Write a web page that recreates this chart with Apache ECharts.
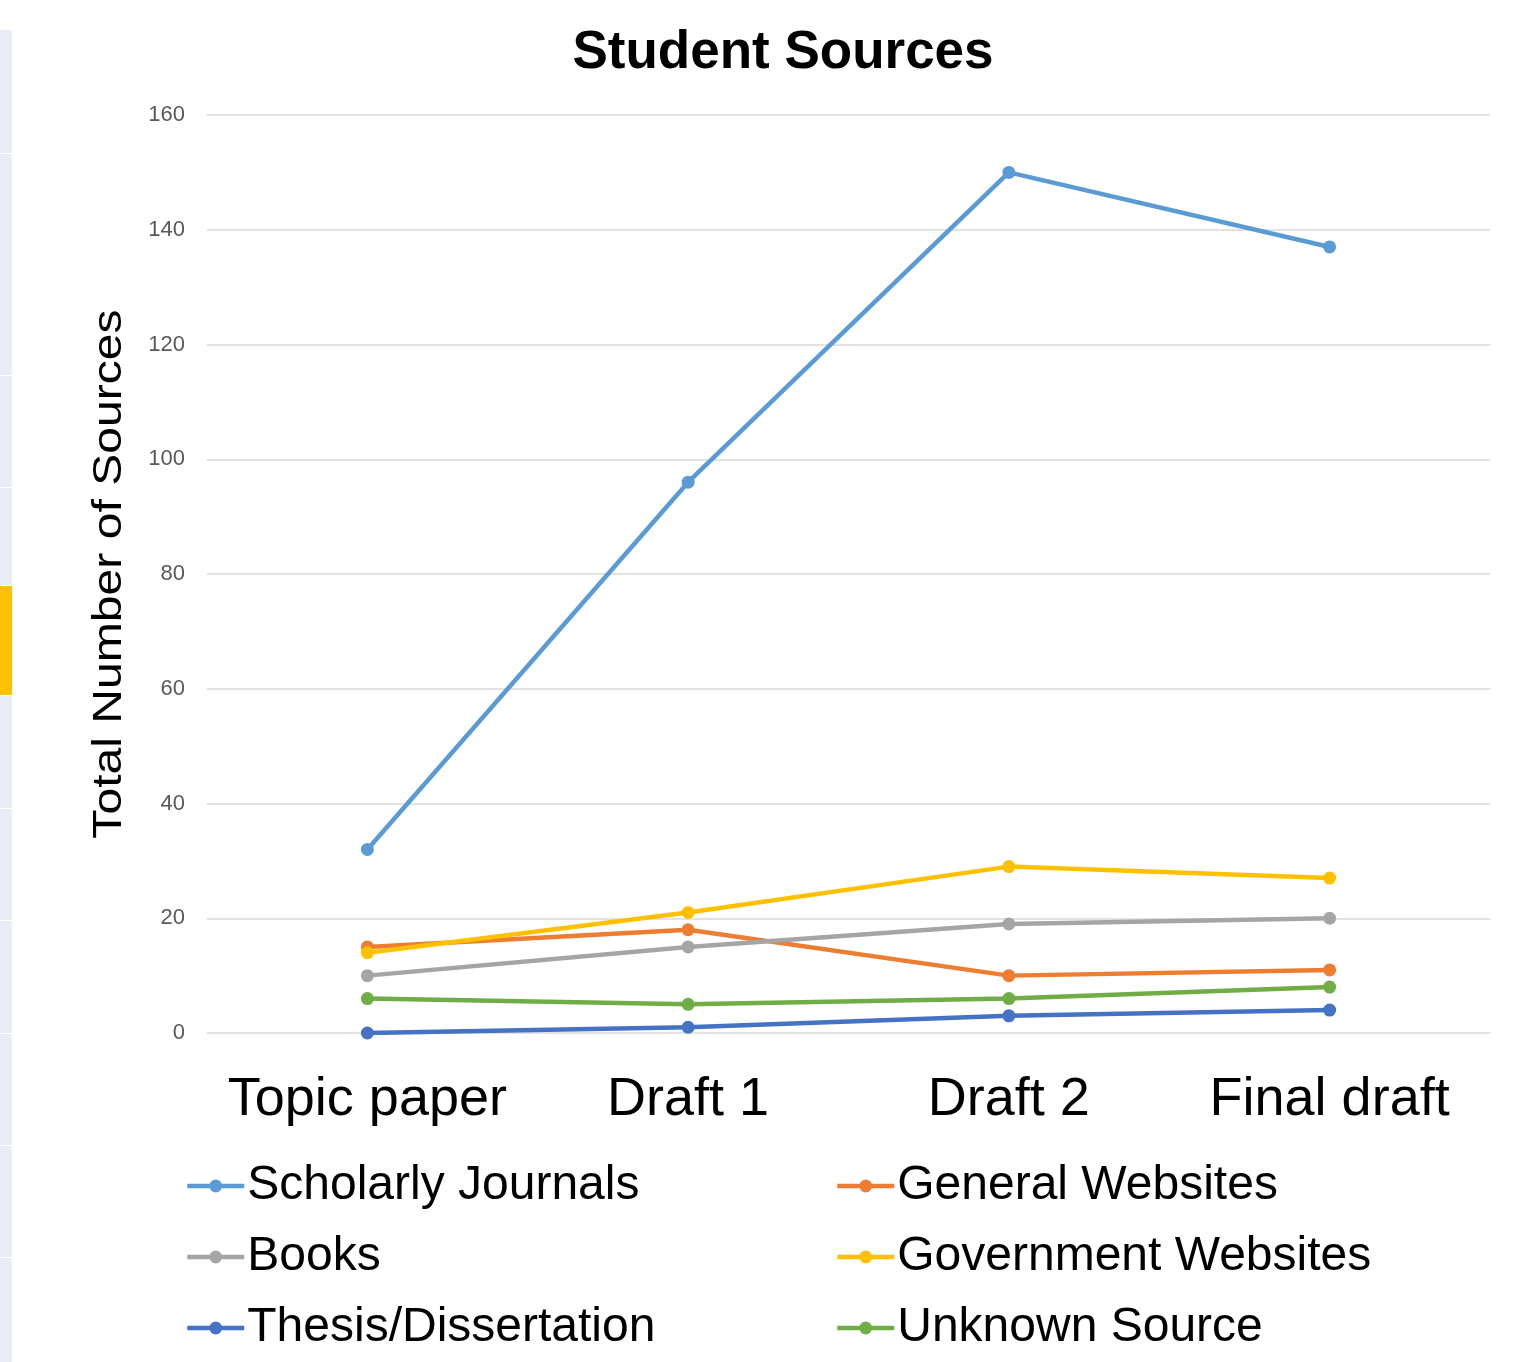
<!DOCTYPE html>
<html><head><meta charset="utf-8">
<script src="https://cdn.jsdelivr.net/npm/echarts@6/dist/echarts.min.js"></script>
<style>html,body{margin:0;padding:0;background:#fff}#c{width:1532px;height:1362px}</style>
</head><body><div id="c"></div>
<script>
const categories = ['Topic paper', 'Draft 1', 'Draft 2', 'Final draft'];
const scholarlyJournals = [32, 96, 150, 137];
const generalWebsites = [15, 18, 10, 11];
const books = [10, 15, 19, 20];
const governmentWebsites = [14, 21, 29, 27];
const thesisDissertation = [0, 1, 3, 4];
const unknownSource = [6, 5, 6, 8];
const yTicks = { min: 0, max: 160, interval: 20 };
const yAxisTitle = 'Total Number of Sources';

const seriesDefs = [
  ['Scholarly Journals', scholarlyJournals, '#5B9BD5'],
  ['General Websites', generalWebsites, '#ED7D31'],
  ['Books', books, '#A5A5A5'],
  ['Government Websites', governmentWebsites, '#FFC000'],
  ['Thesis/Dissertation', thesisDissertation, '#4472C4'],
  ['Unknown Source', unknownSource, '#70AD47']
];
const F = 'Liberation Sans, Arial, sans-serif';
const chart = echarts.init(document.getElementById('c'));
const legendCommon = {
  orient: 'vertical', top: 1157, itemGap: 23, itemWidth: 57, itemHeight: 16,
  textStyle: { fontSize: 48, color: '#000', fontFamily: F, padding: [0,0,0,-2] },
  lineStyle: { width: 4.5 },
  selectedMode: false
};
const gfx = [];
gfx.push({ type: 'rect', shape: { x: 0, y: 30, width: 12, height: 1332 }, style: { fill: '#E9EDF6' }, silent: true });
gfx.push({ type: 'rect', shape: { x: 0, y: 585, width: 12, height: 110 }, style: { fill: '#FFC000' }, silent: true });
[153, 375, 487, 585, 695, 808, 920, 1033, 1145, 1257].forEach(y => gfx.push({ type: 'rect', shape: { x: 0, y: y, width: 12, height: 1 }, style: { fill: '#FFFFFF' }, silent: true }));
gfx.push({
  type: 'text', x: 110, y: 574, rotation: Math.PI / 2, scaleX: 1.173, scaleY: 1,
  style: { text: yAxisTitle, fontSize: 41, fill: '#000', fontFamily: F, align: 'center', verticalAlign: 'middle' },
  silent: true
});
chart.setOption({
  backgroundColor: '#fff',
  animation: false,
  title: { text: 'Student Sources', left: 778, top: 22, textAlign: 'center',
    textStyle: { fontSize: 53, fontWeight: 'bold', color: '#000', fontFamily: F } },
  graphic: gfx,
  legend: [
    Object.assign({}, legendCommon, { left: 180, data: ['Scholarly Journals', 'Books', 'Thesis/Dissertation'] }),
    Object.assign({}, legendCommon, { left: 830, data: ['General Websites', 'Government Websites', 'Unknown Source'] })
  ],
  grid: { left: 207, top: 115, width: 1283, height: 918, containLabel: false },
  xAxis: {
    type: 'category', data: categories, boundaryGap: true,
    axisLine: { show: false }, axisTick: { show: false },
    axisLabel: { fontSize: 54, color: '#000', fontFamily: F, margin: 40, interval: 0, hideOverlap: false }
  },
  yAxis: {
    type: 'value', min: yTicks.min, max: yTicks.max, interval: yTicks.interval,
    axisLine: { show: false }, axisTick: { show: false },
    axisLabel: { fontSize: 22, color: '#595959', fontFamily: F, margin: 22 },
    splitLine: { lineStyle: { color: '#D9D9D9', width: 1.5 } }
  },
  series: seriesDefs.map(([name, data, color]) => ({
    name, type: 'line', data, color,
    symbol: 'circle', symbolSize: 13,
    lineStyle: { width: 4.5, color }, itemStyle: { color }
  }))
});
</script></body></html>
